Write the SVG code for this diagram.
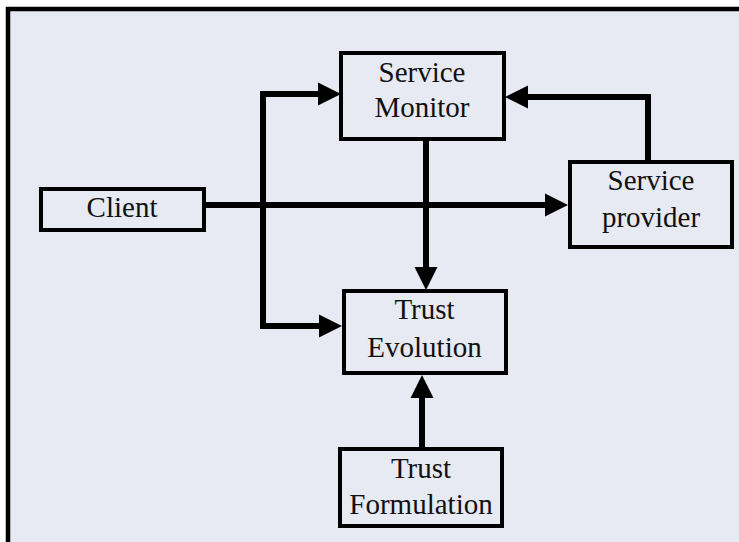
<svg xmlns="http://www.w3.org/2000/svg" width="739" height="542" viewBox="0 0 739 542">
  <style>
    .box { fill: #E7E9F3; stroke: #000; stroke-width: 4; }
    .lbl { font-size: 29px; fill: #111; text-anchor: middle; }
    .conn { fill: none; stroke: #000; stroke-width: 6; stroke-linejoin: miter; }
  </style>
  <defs>
    <marker id="arr" markerUnits="userSpaceOnUse" markerWidth="24" markerHeight="24" refX="0" refY="11.5" orient="auto" overflow="visible">
      <path d="M0,0 L23,11.5 L0,23 Z" fill="#000"/>
    </marker>
  </defs>
  <rect x="0" y="0" width="739" height="542" fill="#FFFFFF"/>
  <rect x="8" y="9" width="740" height="540" fill="#E7E9F3"/>
  <path d="M8,542 V9 H739" fill="none" stroke="#000" stroke-width="4.5"/>

  <g id="connectors">
    <path class="conn" d="M205,205 H545" marker-end="url(#arr)"/>
    <path class="conn" d="M318,94 H263 V326 H319" marker-end="url(#arr)"/>
    <path class="conn" d="M263,94 H318" marker-end="url(#arr)"/>
    <path class="conn" d="M426,140 V267" marker-end="url(#arr)"/>
    <path class="conn" d="M648,161 V97 H528" marker-end="url(#arr)"/>
    <path class="conn" d="M422,447 V398" marker-end="url(#arr)"/>
  </g>

  <g font-family="'Liberation Serif', 'DejaVu Serif', serif">
  <g id="service-monitor">
    <rect class="box" x="341" y="53" width="163" height="86"/>
    <text class="lbl" x="422" y="82">Service</text>
    <text class="lbl" x="422" y="117">Monitor</text>
  </g>
  <g id="client">
    <rect class="box" x="41" y="189" width="163" height="41"/>
    <text class="lbl" x="122" y="217">Client</text>
  </g>
  <g id="service-provider">
    <rect class="box" x="570" y="162" width="162" height="85"/>
    <text class="lbl" x="651" y="190">Service</text>
    <text class="lbl" x="651" y="227">provider</text>
  </g>
  <g id="trust-evolution">
    <rect class="box" x="344" y="291" width="162" height="82"/>
    <text class="lbl" x="424.5" y="319">Trust</text>
    <text class="lbl" x="424.5" y="357">Evolution</text>
  </g>
  <g id="trust-formulation">
    <rect class="box" x="340" y="449" width="162" height="77"/>
    <text class="lbl" x="421" y="478">Trust</text>
    <text class="lbl" x="421" y="514">Formulation</text>
  </g>
  </g>
</svg>
